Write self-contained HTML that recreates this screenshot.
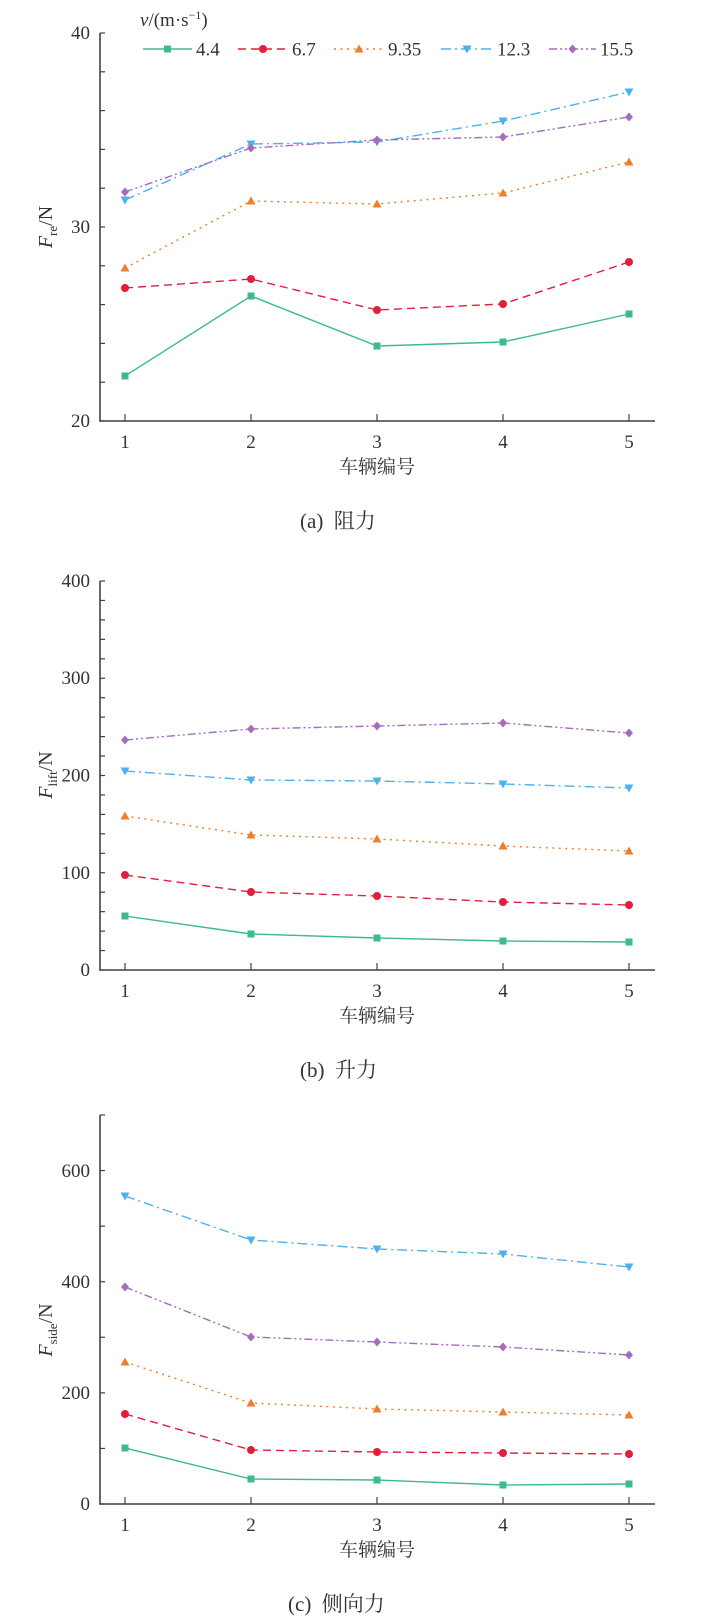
<!DOCTYPE html>
<html><head><meta charset="utf-8"><style>
html,body{margin:0;padding:0;background:#fff;}
svg{display:block;}
text{font-family:"Liberation Serif","Noto Serif CJK SC",serif;fill:#333;}
</style></head><body>
<svg width="707" height="1621" viewBox="0 0 707 1621" xmlns="http://www.w3.org/2000/svg">
<defs>
<g id="sq"><rect x="-3.5" y="-3.5" width="7" height="7"/></g>
<g id="ci"><circle r="4"/></g>
<g id="tu"><polygon points="0,-4.5 4.5,3.5 -4.5,3.5"/></g>
<g id="td"><polygon points="0,4.5 4.5,-3.5 -4.5,-3.5"/></g>
<g id="di"><polygon points="0,-4.5 4,0 0,4.5 -4,0"/></g>
</defs>
<text transform="translate(52,227) rotate(-90)" font-size="20" text-anchor="middle"><tspan font-style="italic">F</tspan><tspan font-size="13" dy="5">re</tspan><tspan dy="-5">/N</tspan></text>
<text transform="translate(52,775) rotate(-90)" font-size="20" text-anchor="middle"><tspan font-style="italic">F</tspan><tspan font-size="13" dy="5">lift</tspan><tspan dy="-5">/N</tspan></text>
<text transform="translate(52,1330) rotate(-90)" font-size="20" text-anchor="middle"><tspan font-style="italic">F</tspan><tspan font-size="13" dy="5">side</tspan><tspan dy="-5">/N</tspan></text>
<g id="charts"></g>
</svg>
<script>
const NS="http://www.w3.org/2000/svg";
const root=document.getElementById('charts');
function el(t,a,p){const e=document.createElementNS(NS,t);for(const k in a)e.setAttribute(k,a[k]);(p||root).appendChild(e);return e;}
function txt(x,y,s,a,p){const e=el('text',Object.assign({x:x,y:y},a||{}),p);e.textContent=s;return e;}
const X=[125,251,377,503,629];
const S=[
 {c:'#3dba8f',d:'',m:'sq'},
 {c:'#e31d3a',d:'8,5',m:'ci'},
 {c:'#ee7d2c',d:'2,4.5',m:'tu'},
 {c:'#4fb1e9',d:'10,4,2,4',m:'td'},
 {c:'#a56cbd',d:'8,3,2,3,2,3',m:'di'}];
function chart(top,bot,nT,labels,data,cap,capX){
 el('line',{x1:100,y1:top,x2:100,y2:bot+0.5,stroke:'#4a3f3c','stroke-width':1.6});
 el('line',{x1:99.2,y1:bot,x2:655,y2:bot,stroke:'#4a3f3c','stroke-width':1.6});
 for(let k=0;k<=nT;k++){const y=bot-(bot-top)*k/nT;el('line',{x1:100,y1:y,x2:105,y2:y,stroke:'#4a3f3c','stroke-width':1.2});}
 X.forEach((x,i)=>{el('line',{x1:x,y1:bot,x2:x,y2:bot-7,stroke:'#4a3f3c','stroke-width':1.2});txt(x,bot+27,String(i+1),{'font-size':19,'text-anchor':'middle'});});
 labels.forEach(l=>txt(90,l[1]+6,l[0],{'font-size':19,'text-anchor':'end'}));
 txt(377,bot+52,'车辆编号',{'font-size':19,'text-anchor':'middle'});
 txt(capX,bot+107,cap,{'font-size':21,'xml:space':'preserve'});
 data.forEach((ys,i)=>{const s=S[i];
  el('polyline',{points:ys.map((y,j)=>X[j]+','+y).join(' '),fill:'none',stroke:s.c,'stroke-width':1.4,'stroke-dasharray':s.d});
  ys.forEach((y,j)=>el('use',{href:'#'+s.m,x:X[j],y:y,fill:s.c}));});
}
chart(33,421,10,[['40',33],['30',227],['20',421]],
 [[376,296,346,342,314],[288,279,310,304,262],[268,201,204,193,162],[200,144,142,121,92],[192,148,140,137,117]],
 '(a)\u00a0\u00a0阻力',300);
chart(581,970,20,[['400',581],['300',678],['200',775.5],['100',873],['0',970]],
 [[916,934,938,941,942],[875,892,896,902,905],[816,835,839,846,851],[771,780,781,784,788],[740,729,726,723,733]],
 '(b)\u00a0\u00a0升力',300);
chart(1115,1504,7,[['600',1171],['400',1282],['200',1393],['0',1504]],
 [[1448,1479,1480,1485,1484],[1414,1450,1452,1453,1454],[1362,1403,1409,1412,1415],[1196,1240,1249,1254,1267],[1287,1337,1342,1347,1355]],
 '(c)\u00a0\u00a0侧向力',288);
const t=el('text',{x:140,y:26,'font-size':19});
const a=el('tspan',{'font-style':'italic'},t);a.textContent='v';
const b=el('tspan',{},t);b.textContent='/(m·s';
const c=el('tspan',{'font-size':12,dy:-7},t);c.textContent='−1';
const d=el('tspan',{dy:7},t);d.textContent=')';
const L=[[143,192,'4.4'],[238,288,'6.7'],[334,384,'9.35'],[441,493,'12.3'],[549,596,'15.5']];
L.forEach((l,i)=>{const s=S[i];
 el('line',{x1:l[0],y1:49,x2:l[1],y2:49,stroke:s.c,'stroke-width':1.4,'stroke-dasharray':s.d});
 el('use',{href:'#'+s.m,x:(l[0]+l[1])/2,y:49,fill:s.c});
 txt(l[1]+4,55.5,l[2],{'font-size':19});});
</script>
</body></html>
